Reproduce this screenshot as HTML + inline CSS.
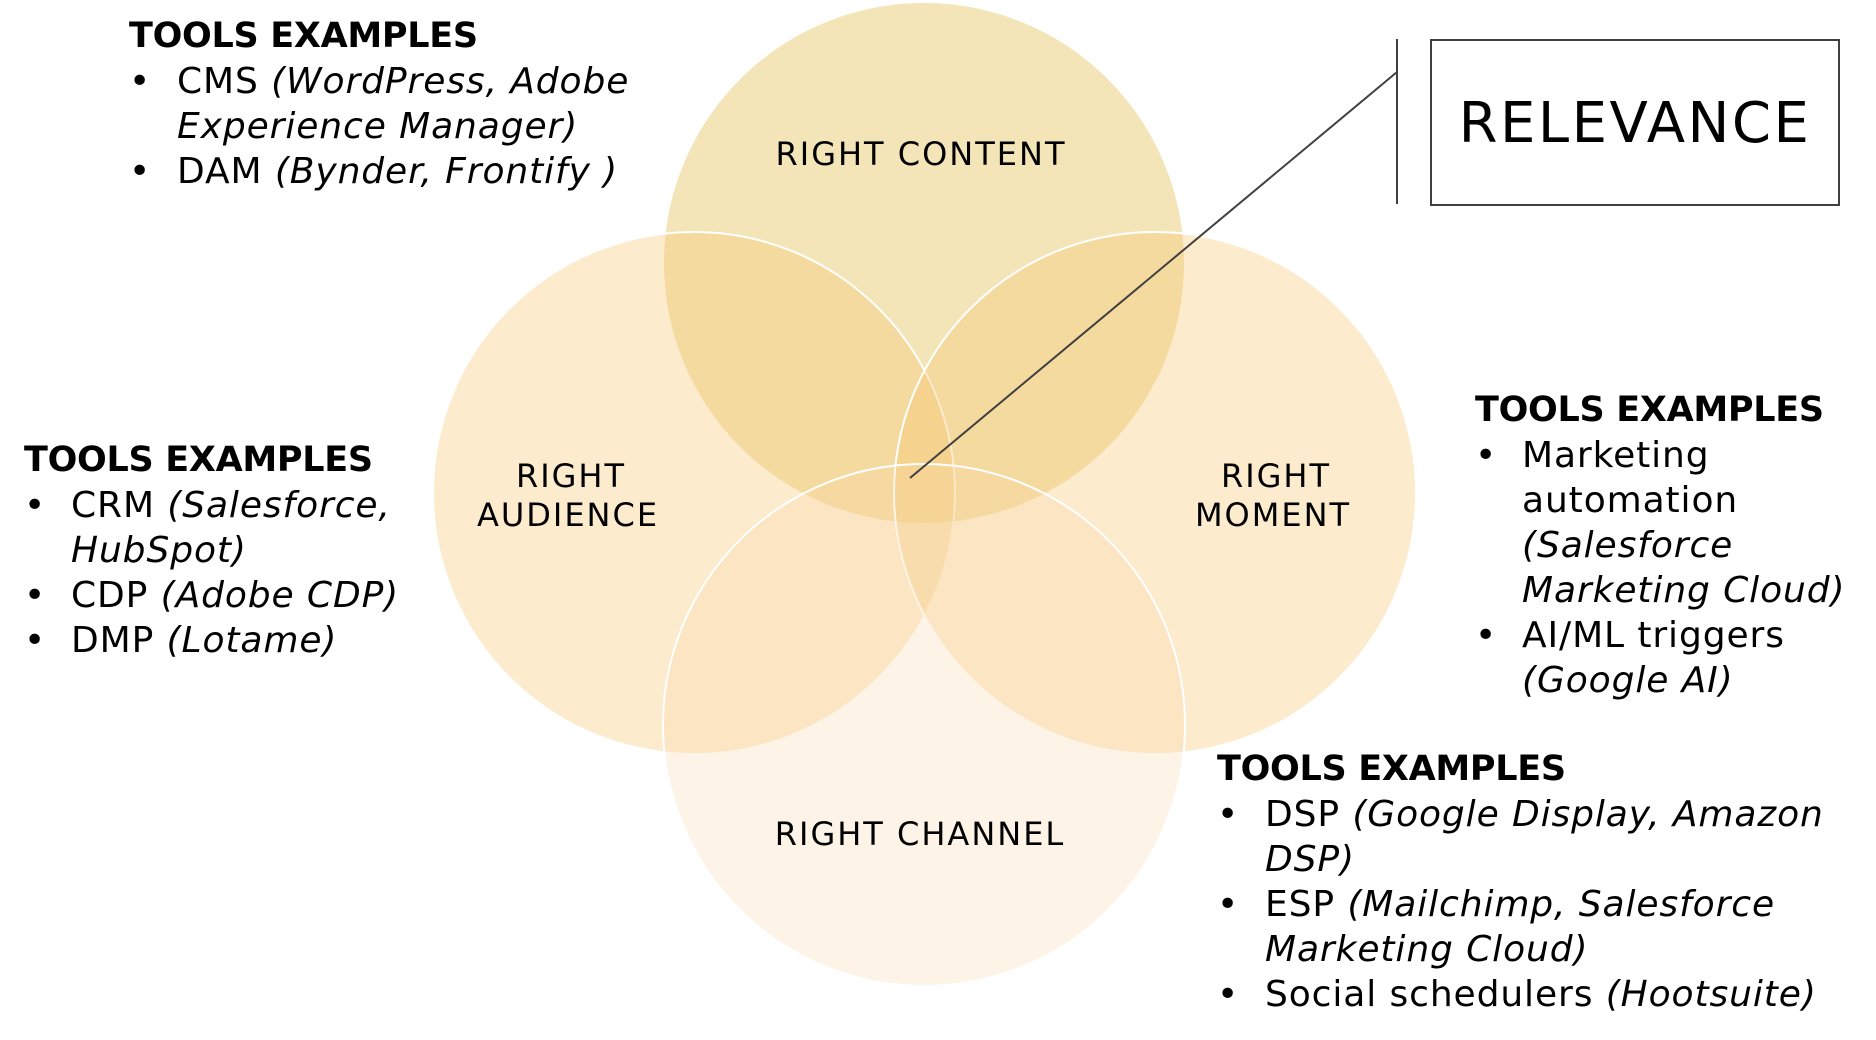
<!DOCTYPE html>
<html><head><meta charset="utf-8"><style>
html,body{margin:0;padding:0;background:#fff;}
body{width:1876px;height:1040px;position:relative;overflow:hidden;font-family:"DejaVu Sans","Liberation Sans",sans-serif;color:#000;}
.blk{position:absolute;font-size:36px;letter-spacing:0.9px;line-height:45px;white-space:nowrap;}
.h{font-weight:bold;font-size:35px;letter-spacing:-0.3px;}
.li{position:relative;}
.li .b{position:absolute;}
i{font-style:italic;}
</style></head><body>
<svg width="1876" height="1040" style="position:absolute;left:0;top:0">
<g stroke="#fff" stroke-width="2">
<circle cx="924" cy="263" r="261" fill="#e9cb72" fill-opacity="0.5"/>
<circle cx="694" cy="493" r="261" fill="#f7c771" fill-opacity="0.35"/>
<circle cx="1155" cy="493" r="261" fill="#f7c771" fill-opacity="0.35"/>
<circle cx="924" cy="725" r="261" fill="#f7d9a8" fill-opacity="0.28"/>
</g>
<line x1="1397" y1="72" x2="910" y2="478" stroke="#404040" stroke-width="2"/>
<line x1="1397" y1="39" x2="1397" y2="204" stroke="#404040" stroke-width="2"/>
<rect x="1431" y="40" width="408" height="165" fill="#fff" stroke="#404040" stroke-width="2"/>
<text x="1635" y="142" font-size="56" letter-spacing="2.5" text-anchor="middle" font-family="DejaVu Sans, sans-serif">RELEVANCE</text>
<g font-size="32" letter-spacing="2" text-anchor="middle" font-family="DejaVu Sans, sans-serif">
<text x="921" y="165">RIGHT CONTENT</text>
<text x="571" y="487">RIGHT</text>
<text x="568" y="526">AUDIENCE</text>
<text x="1276" y="487">RIGHT</text>
<text x="1273" y="526">MOMENT</text>
<text x="920" y="845">RIGHT CHANNEL</text>
</g>
</svg>

<div class="blk" style="left:129px;top:14px;">
<div class="h">TOOLS EXAMPLES</div>
<div class="li" style="padding-left:48px"><span class="b" style="left:0">•</span>CMS <i>(WordPress, Adobe</i></div>
<div style="padding-left:48px"><i>Experience Manager)</i></div>
<div class="li" style="padding-left:48px"><span class="b" style="left:0">•</span>DAM <i>(Bynder, Frontify )</i></div>
</div>

<div class="blk" style="left:24px;top:438px;">
<div class="h">TOOLS EXAMPLES</div>
<div class="li" style="padding-left:47px"><span class="b" style="left:0">•</span>CRM <i>(Salesforce,</i></div>
<div style="padding-left:47px"><i>HubSpot)</i></div>
<div class="li" style="padding-left:47px"><span class="b" style="left:0">•</span>CDP <i>(Adobe CDP)</i></div>
<div class="li" style="padding-left:47px"><span class="b" style="left:0">•</span>DMP <i>(Lotame)</i></div>
</div>

<div class="blk" style="left:1475px;top:388px;">
<div class="h">TOOLS EXAMPLES</div>
<div class="li" style="padding-left:47px"><span class="b" style="left:0">•</span>Marketing</div>
<div style="padding-left:47px">automation</div>
<div style="padding-left:47px"><i>(Salesforce</i></div>
<div style="padding-left:47px"><i>Marketing Cloud)</i></div>
<div class="li" style="padding-left:47px"><span class="b" style="left:0">•</span>AI/ML triggers</div>
<div style="padding-left:47px"><i>(Google AI)</i></div>
</div>

<div class="blk" style="left:1217px;top:747px;">
<div class="h">TOOLS EXAMPLES</div>
<div class="li" style="padding-left:48px"><span class="b" style="left:0">•</span>DSP <i>(Google Display, Amazon</i></div>
<div style="padding-left:48px"><i>DSP)</i></div>
<div class="li" style="padding-left:48px"><span class="b" style="left:0">•</span>ESP <i>(Mailchimp, Salesforce</i></div>
<div style="padding-left:48px"><i>Marketing Cloud)</i></div>
<div class="li" style="padding-left:48px"><span class="b" style="left:0">•</span>Social schedulers <i>(Hootsuite)</i></div>
</div>
</body></html>
